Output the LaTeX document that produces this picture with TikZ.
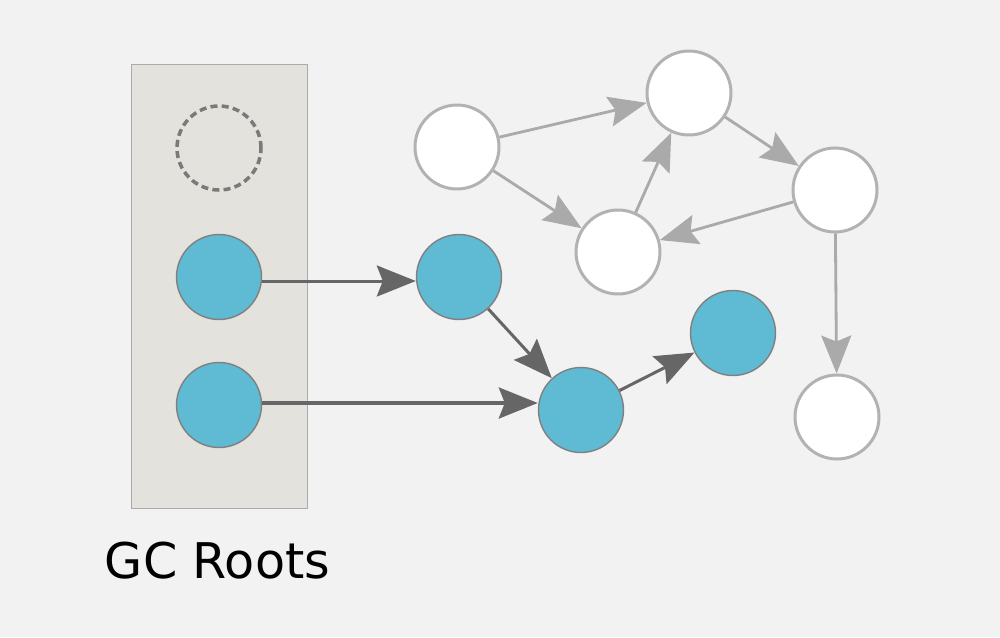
\documentclass[tikz,border=0pt]{standalone}
\usepackage{fontspec}
\setmainfont{DejaVu Sans}
\usetikzlibrary{arrows.meta}

\begin{document}
\begin{tikzpicture}[x=0.02cm,y=-0.02cm]
    \definecolor{hintergrund}{HTML}{F2F2F2}
    \definecolor{rootfarbe}{HTML}{E3E2DC}
    \definecolor{blau}{HTML}{5FBAD3}
    \definecolor{dunkel}{HTML}{666666}
    \definecolor{hell}{HTML}{AAAAAA}
    \definecolor{strich}{HTML}{7A7A7A}
    \tikzset{
      lebend/.style={circle, minimum size=1.7cm, inner sep=0pt, fill=blau, draw=gray, line width=0.8pt},
      tot/.style={circle, minimum size=1.68cm, inner sep=0pt, fill=white, draw=hell!90!white, line width=1.7pt},
      leer/.style={circle, minimum size=1.68cm, inner sep=0pt, draw=strich, dash pattern=on 4pt off 2.4pt, line width=2pt},
      dunkelpfeil/.style={draw=dunkel, line width=1.7pt, -{Stealth[length=0.78cm, width=0.62cm, inset=0.12cm]}},
      hellpfeil/.style={draw=hell, line width=1.6pt, -{Stealth[length=0.76cm, width=0.6cm, inset=0.12cm]}}
    }
    \fill[hintergrund] (0,0) rectangle (1000,637);  %Hintergrund
    \draw[fill=rootfarbe, draw=hell] (131,64) rectangle (307,508);  %Kasten der Roots
    \node[leer] (r0) at (219,148) {};  %leerer Root
    \foreach \name/\x/\y in
    {
      r1/219/277,  %Roots
      r2/219/405,
      a/459/277,  %erreichbare Objekte
      b/581/410,
      c/733/333
    }
      \node[lebend] (\name) at (\x,\y) {};
    \foreach \name/\x/\y in
    {
      w1/457/147,  %unerreichbare Objekte
      w2/689/93,
      w3/835/190,
      w4/618/252,
      w5/837/417
    }
      \node[tot] (\name) at (\x,\y) {};
    \draw[dunkelpfeil] (r1.east |- 0,281) -- (a.west |- 0,281);
    \draw[dunkelpfeil, line width=2pt] (r2.east |- 0,403) -- (b.west |- 0,403);
    \foreach \von/\nach in {a/b, b/c}
      \draw[dunkelpfeil] (\von) -- (\nach);
    \foreach \von/\nach in {w1/w2, w1/w4, w4/w2, w2/w3, w3/w4, w3/w5}
      \draw[hellpfeil] (\von) -- (\nach);
    \node[anchor=base, font=\fontsize{28}{33}\selectfont] (titel) at (217.5,578) {GC Roots};  %Beschriftung
\end{tikzpicture}
\end{document}
